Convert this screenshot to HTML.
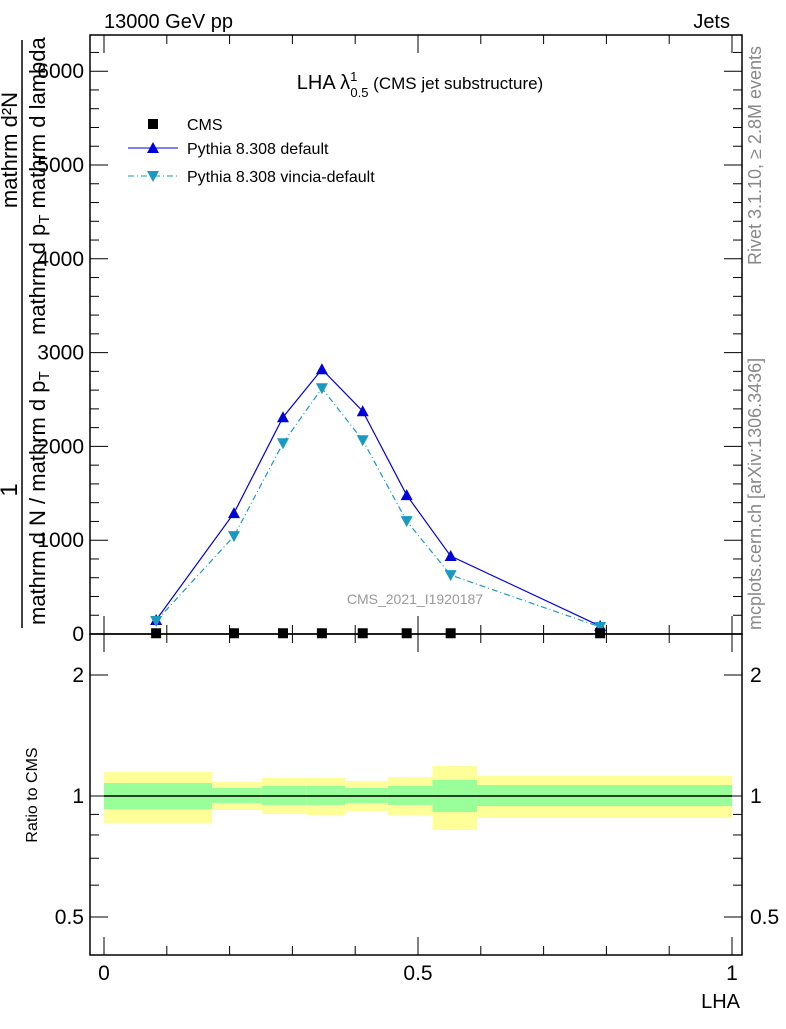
<!DOCTYPE html>
<html><head><meta charset="utf-8"><style>
body{margin:0;background:#fff;}
svg{font-family:"Liberation Sans",sans-serif;}
</style></head><body>
<svg id="c" width="786" height="1024" xmlns="http://www.w3.org/2000/svg"></svg>
<script>
const xCenters=[0.083,0.207,0.285,0.347,0.412,0.482,0.552,0.79];
const cmsVals=[8,8,8,8,8,8,8,8];
const pyDefault=[149,1289,2311,2822,2375,1480,831,85];
const pyVincia=[138,1044,2034,2620,2066,1203,628,75];
const binEdges=[0,0.172,0.251,0.322,0.384,0.452,0.523,0.594,1];
const yelLo=[0.857,0.923,0.902,0.897,0.918,0.897,0.823,0.882];
const yelHi=[1.147,1.083,1.109,1.109,1.090,1.115,1.188,1.121];
const grnLo=[0.928,0.961,0.950,0.950,0.961,0.950,0.912,0.944];
const grnHi=[1.077,1.047,1.059,1.059,1.047,1.059,1.096,1.065];
const mainTicks=[0,1000,2000,3000,4000,5000,6000];
const ratioTicks=[0.5,1,2];
const xTicks=[0,0.5,1];

const svg=document.getElementById('c');
const NS='http://www.w3.org/2000/svg';
const L=90,R=742,T=35,MB=634,RB=955;
const X=v=>104+628*v;
const Y=v=>634-v*0.0938;
const YR=v=>796-121*Math.log2(v);
function mk(tag,attrs,parent){const e=document.createElementNS(NS,tag);for(const k in attrs)e.setAttribute(k,attrs[k]);(parent||svg).appendChild(e);return e;}
function txt(s,x,y,size,attrs){const e=mk('text',Object.assign({x:x,y:y,'font-size':size},attrs||{}));e.textContent=s;return e;}

for(let i=0;i<binEdges.length-1;i++){
  const y1=mk('rect',{x:X(binEdges[i]),y:YR(yelHi[i]),width:X(binEdges[i+1])-X(binEdges[i]),height:YR(yelLo[i])-YR(yelHi[i]),fill:'#ffff99'});
  
  
  const g1=mk('rect',{x:X(binEdges[i]),y:YR(grnHi[i]),width:X(binEdges[i+1])-X(binEdges[i]),height:YR(grnLo[i])-YR(grnHi[i]),fill:'#99ff99'});
  
  
}
const ul=mk('line',{x1:X(0),x2:X(1),y1:YR(1),y2:YR(1),stroke:'#000','stroke-width':1.5});



const f1=mk('rect',{x:L,y:T,width:R-L,height:MB-T,fill:'none',stroke:'#000','stroke-width':1.5});


const f2=mk('rect',{x:L,y:MB,width:R-L,height:RB-MB,fill:'none',stroke:'#000','stroke-width':1.5});



for(let k=0;k<=10;k++){
  const v=k/10,maj=k%5===0,len=maj?18:9;
  for(const [yb,yt] of [[MB,T],[RB,MB]]){
    mk('line',{x1:X(v),x2:X(v),y1:yb,y2:yb-len,stroke:'#000'});
    mk('line',{x1:X(v),x2:X(v),y1:yt,y2:yt+len,stroke:'#000'});
  }
}
xTicks.forEach(v=>{const t=txt(String(v),X(v),980,21,{'text-anchor':'middle'});

});

for(let v=0;v<=6200;v+=200){
  const maj=v%1000===0,len=maj?18:9;
  mk('line',{x1:L,x2:L+len,y1:Y(v),y2:Y(v),stroke:'#000'});
  mk('line',{x1:R,x2:R-len,y1:Y(v),y2:Y(v),stroke:'#000'});
}
mainTicks.forEach(v=>{const t=txt(String(v),84,Y(v)+7,21,{'text-anchor':'end'});

});

const rt=[0.5,0.6,0.7,0.8,0.9,1,2];
rt.forEach(v=>{const maj=ratioTicks.includes(v),len=maj?18:9;
  mk('line',{x1:L,x2:L+len,y1:YR(v),y2:YR(v),stroke:'#000'});
  mk('line',{x1:R,x2:R-len,y1:YR(v),y2:YR(v),stroke:'#000'});});
ratioTicks.forEach(v=>{
  const a=txt(String(v),84,YR(v)+7,21,{'text-anchor':'end'});
  
  
  const b=txt(String(v),750,YR(v)+7,21,{});
  
  
});

function poly(vals,color,dash,name){
  const p=mk('polyline',{points:xCenters.map((x,i)=>X(x)+','+Y(vals[i])).join(' '),fill:'none',stroke:color,'stroke-width':1.2,'stroke-dasharray':dash||''});
  
  
}
poly(pyDefault,'#0000dd','','pythia-default-line');
poly(pyVincia,'#1a9ac0','6,3,1,3','pythia-vincia-line');
xCenters.forEach((x,i)=>{
  const cx=X(x),cy=Y(pyDefault[i]);
  const a=mk('polygon',{points:`${cx-6},${cy+5} ${cx+6},${cy+5} ${cx},${cy-6}`,fill:'#0000dd'});
  
  
  const vy=Y(pyVincia[i]);
  const b=mk('polygon',{points:`${cx-6},${vy-5} ${cx+6},${vy-5} ${cx},${vy+6}`,fill:'#1a9ac0'});
  
  
  const cy2=Y(cmsVals[i]);
  const c=mk('rect',{x:cx-5,y:cy2-5,width:10,height:10,fill:'#000'});
  
  
});
</script>
<svg width="786" height="1024" style="position:absolute;left:0;top:0" xmlns="http://www.w3.org/2000/svg">
<text x="104" y="28" font-size="20" font-family="Liberation Sans">13000 GeV pp</text>
<text x="730" y="28" font-size="20" text-anchor="end" font-family="Liberation Sans">Jets</text>
<text x="420" y="89" font-size="20" text-anchor="middle" font-family="Liberation Sans">LHA λ<tspan font-size="13" dy="-8">1</tspan><tspan font-size="13" dx="-7" dy="16">0.5</tspan><tspan font-size="17" dy="-8"> (CMS jet substructure)</tspan></text>
<g font-family="Liberation Sans" font-size="16">
<rect x="148" y="119" width="10" height="10" fill="#000"/>
<text x="187" y="130">CMS</text>
<line x1="128" x2="178" y1="148" y2="148" stroke="#0000dd"/>
<polygon points="147,153 159,153 153,142" fill="#0000dd"/>
<text x="187" y="154">Pythia 8.308 default</text>
<line x1="128" x2="178" y1="176" y2="176" stroke="#1a9ac0" stroke-dasharray="6,3,1,3"/>
<polygon points="147,171 159,171 153,182" fill="#1a9ac0"/>
<text x="187" y="182">Pythia 8.308 vincia-default</text>
</g>
<text x="415" y="604" font-size="14" fill="#999" text-anchor="middle" font-family="Liberation Sans">CMS_2021_I1920187</text>
<text x="740" y="1008" font-size="20" text-anchor="end" font-family="Liberation Sans">LHA</text>
<text transform="translate(37,795) rotate(-90)" font-size="16" text-anchor="middle" font-family="Liberation Sans">Ratio to CMS</text>
<g font-family="Liberation Sans" font-size="22">
<line x1="22" x2="22" y1="40" y2="628" stroke="#000" stroke-width="1.5"/>
<text transform="translate(17,490) rotate(-90)" text-anchor="middle" font-size="24">1</text>
<text transform="translate(17,150) rotate(-90)" text-anchor="middle">mathrm d²N</text>
<text transform="translate(45,625) rotate(-90)">mathrm d N / mathrm d p<tspan font-size="15" dy="4">T</tspan></text>
<text transform="translate(45,335) rotate(-90)">mathrm d p<tspan font-size="15" dy="4">T</tspan><tspan dy="-4"> mathrm d lambda</tspan></text>
</g>
<text transform="translate(761,265) rotate(-90)" font-size="18" fill="#888" font-family="Liberation Sans">Rivet 3.1.10, ≥ 2.8M events</text>
<text transform="translate(761,630) rotate(-90)" font-size="18" fill="#888" font-family="Liberation Sans">mcplots.cern.ch [arXiv:1306.3436]</text>
</svg>
</body></html>
